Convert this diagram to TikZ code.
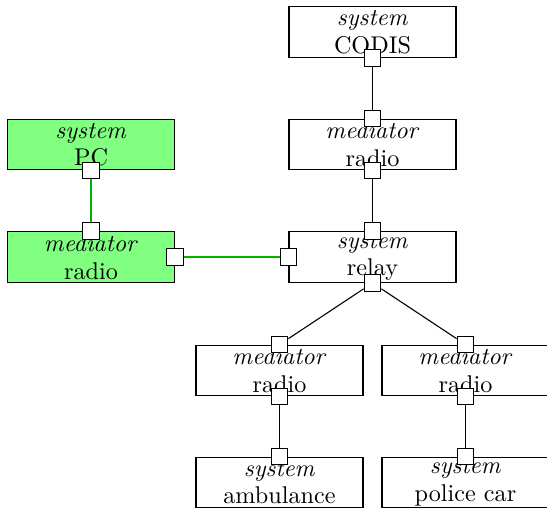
\documentclass[tikz,border=0pt]{standalone}
\usetikzlibrary{positioning}
\begin{document}
\begin{tikzpicture}[x=0.4132pt,y=-0.4132pt,
  blk/.style={draw=black,line width=0.45pt,rectangle,minimum width=69pt,minimum height=21pt,inner sep=0pt,align=center,font=\fontsize{10}{11.4}\selectfont},
  grn/.style={blk,fill=green!50},
  port/.style={draw=black,line width=0.45pt,fill=white,rectangle,minimum size=6.9pt,inner sep=0pt},
  wire/.style={draw=black,line width=0.45pt},
  gwire/.style={draw=green!70!black,line width=0.5pt}]
\useasboundingbox (0,0) rectangle (547,508);
% blocks
\node[blk] (codis) at (372.5,32) {\textit{system}\\CODIS};
\node[blk] (medt) at (372.5,144.5) {\textit{mediator}\\radio};
\node[grn] (pc) at (91,144.5) {\textit{system}\\PC};
\node[grn] (medg) at (91,257) {\textit{mediator}\\radio};
\node[blk] (relay) at (372.5,257) {\textit{system}\\relay};
\node[blk] (medl) at (279.5,370.5) {\textit{mediator}\\radio};
\node[blk] (medr) at (465.5,370.5) {\textit{mediator}\\radio};
\node[blk] (amb) at (279.5,482.5) {\textit{system}\\ambulance};
\node[blk] (pol) at (465.5,482.5) {\textit{system}\\police car};
% ports
\node[port] (pcodis) at (codis.south) {};
\node[port] (pmedtn) at (medt.north) {};
\node[port] (pmedts) at (medt.south) {};
\node[port] (ppc) at (pc.south) {};
\node[port] (pmedgn) at (medg.north) {};
\node[port] (pmedge) at (medg.east) {};
\node[port] (prelayw) at (relay.west) {};
\node[port] (prelayn) at (relay.north) {};
\node[port] (prelays) at (relay.south) {};
\node[port] (pmedln) at (medl.north) {};
\node[port] (pmedls) at (medl.south) {};
\node[port] (pmedrn) at (medr.north) {};
\node[port] (pmedrs) at (medr.south) {};
\node[port] (pamb) at (amb.north) {};
\node[port] (ppol) at (pol.north) {};
% connectors
\draw[wire] (pcodis) -- (pmedtn);
\draw[wire] (pmedts) -- (prelayn);
\draw[gwire] (ppc) -- (pmedgn);
\draw[gwire] (pmedge) -- (prelayw);
\draw[wire] (prelays) -- (pmedln);
\draw[wire] (prelays) -- (pmedrn);
\draw[wire] (pmedls) -- (pamb);
\draw[wire] (pmedrs) -- (ppol);
\end{tikzpicture}
\end{document}
